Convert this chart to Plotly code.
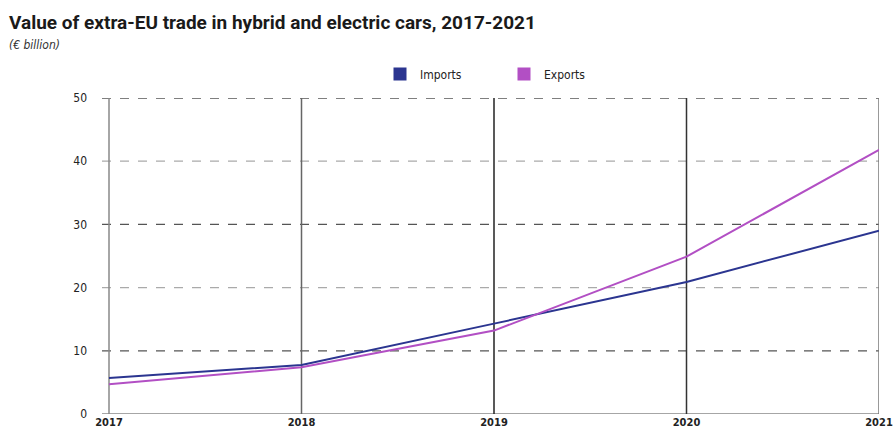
import plotly.graph_objects as go

years = [2017, 2018, 2019, 2020, 2021]
imports = [5.7, 7.75, 14.3, 20.9, 29.0]
exports = [4.7, 7.4, 13.2, 24.9, 41.8]
y_ticks = [0, 10, 20, 30, 40, 50]

IMP_COLOR = "#2b3590"
EXP_COLOR = "#b24fc4"
FONT = "DejaVu Sans Condensed, Roboto, sans-serif"
TITLE_FONT = "Roboto, sans-serif"

W, H = 893, 434
ML, MR, MT, MB = 102, 14, 98, 20
PW = W - ML - MR
PH = H - MT - MB

fig = go.Figure()

fig.add_trace(go.Scatter(x=years, y=imports, mode="lines", name="Imports",
                         line=dict(color=IMP_COLOR, width=2), showlegend=False))
fig.add_trace(go.Scatter(x=years, y=exports, mode="lines", name="Exports",
                         line=dict(color=EXP_COLOR, width=2), showlegend=False))

# square legend keys
for name, col in [("Imports", IMP_COLOR), ("Exports", EXP_COLOR)]:
    fig.add_trace(go.Scatter(x=[None], y=[None], mode="markers", name=name,
                             marker=dict(symbol="square", size=13, color=col)))

# horizontal gridlines: alternating dark/light dashes, solid baseline
for v in y_ticks:
    if v == 0:
        fig.add_shape(type="line", xref="paper", yref="y", x0=0, x1=1, y0=v, y1=v,
                      line=dict(color="#888888", width=1.5), layer="below")
    else:
        col = "#555555" if (v // 10) % 2 == 1 else "#aaaaaa"
        fig.add_shape(type="line", xref="paper", yref="y", x0=0, x1=1, y0=v, y1=v,
                      line=dict(color=col, width=1.3, dash="dash"), layer="below")

# vertical year lines
vcols = {2017: "#888888", 2018: "#666666", 2019: "#222222", 2020: "#333333", 2021: "#777777"}
for yr in years:
    fig.add_shape(type="line", xref="x", yref="y", x0=yr, x1=yr, y0=0, y1=50,
                  line=dict(color=vcols[yr], width=1.5), layer="below")

def px_x(p):
    return (p - ML) / PW

def px_y(p):
    return (H - MB - p) / PH

fig.add_annotation(text="<b>Value of extra-EU trade in hybrid and electric cars, 2017-2021</b>",
                   xref="paper", yref="paper", x=px_x(7), y=px_y(22), yanchor="middle",
                   xanchor="left", showarrow=False,
                   font=dict(family=TITLE_FONT, size=19, color="#1a1a1a"))
fig.add_annotation(text="<i>(€ billion)</i>",
                   xref="paper", yref="paper", x=px_x(7), y=px_y(45), yanchor="middle",
                   xanchor="left", showarrow=False,
                   font=dict(family=FONT, size=12, color="#333333"))

span = 2021 - 2017
fig.update_layout(
    width=W, height=H,
    margin=dict(l=ML, r=MR, t=MT, b=MB, autoexpand=False),
    plot_bgcolor="white", paper_bgcolor="white",
    font=dict(family=FONT, color="#222222"),
    showlegend=True,
    legend=dict(orientation="h", x=px_x(380), xanchor="left", y=px_y(74), yanchor="middle",
                font=dict(size=12, color="#222222"),
                tracegroupgap=0, entrywidth=79),
    xaxis=dict(range=[2017 - 7 / (PW - 7) * span, 2021], tickvals=years,
               ticktext=[f"<b>{y}</b>" for y in years], showgrid=False,
               zeroline=False, showline=False, ticks="", tickfont=dict(size=11),
               fixedrange=True, automargin=False),
    yaxis=dict(range=[0, 50], tickvals=y_ticks, showgrid=False, zeroline=False,
               showline=False, ticks="", tickfont=dict(size=12), ticklabelstandoff=14,
               fixedrange=True, automargin=False),
)

fig.write_html("out.html")
